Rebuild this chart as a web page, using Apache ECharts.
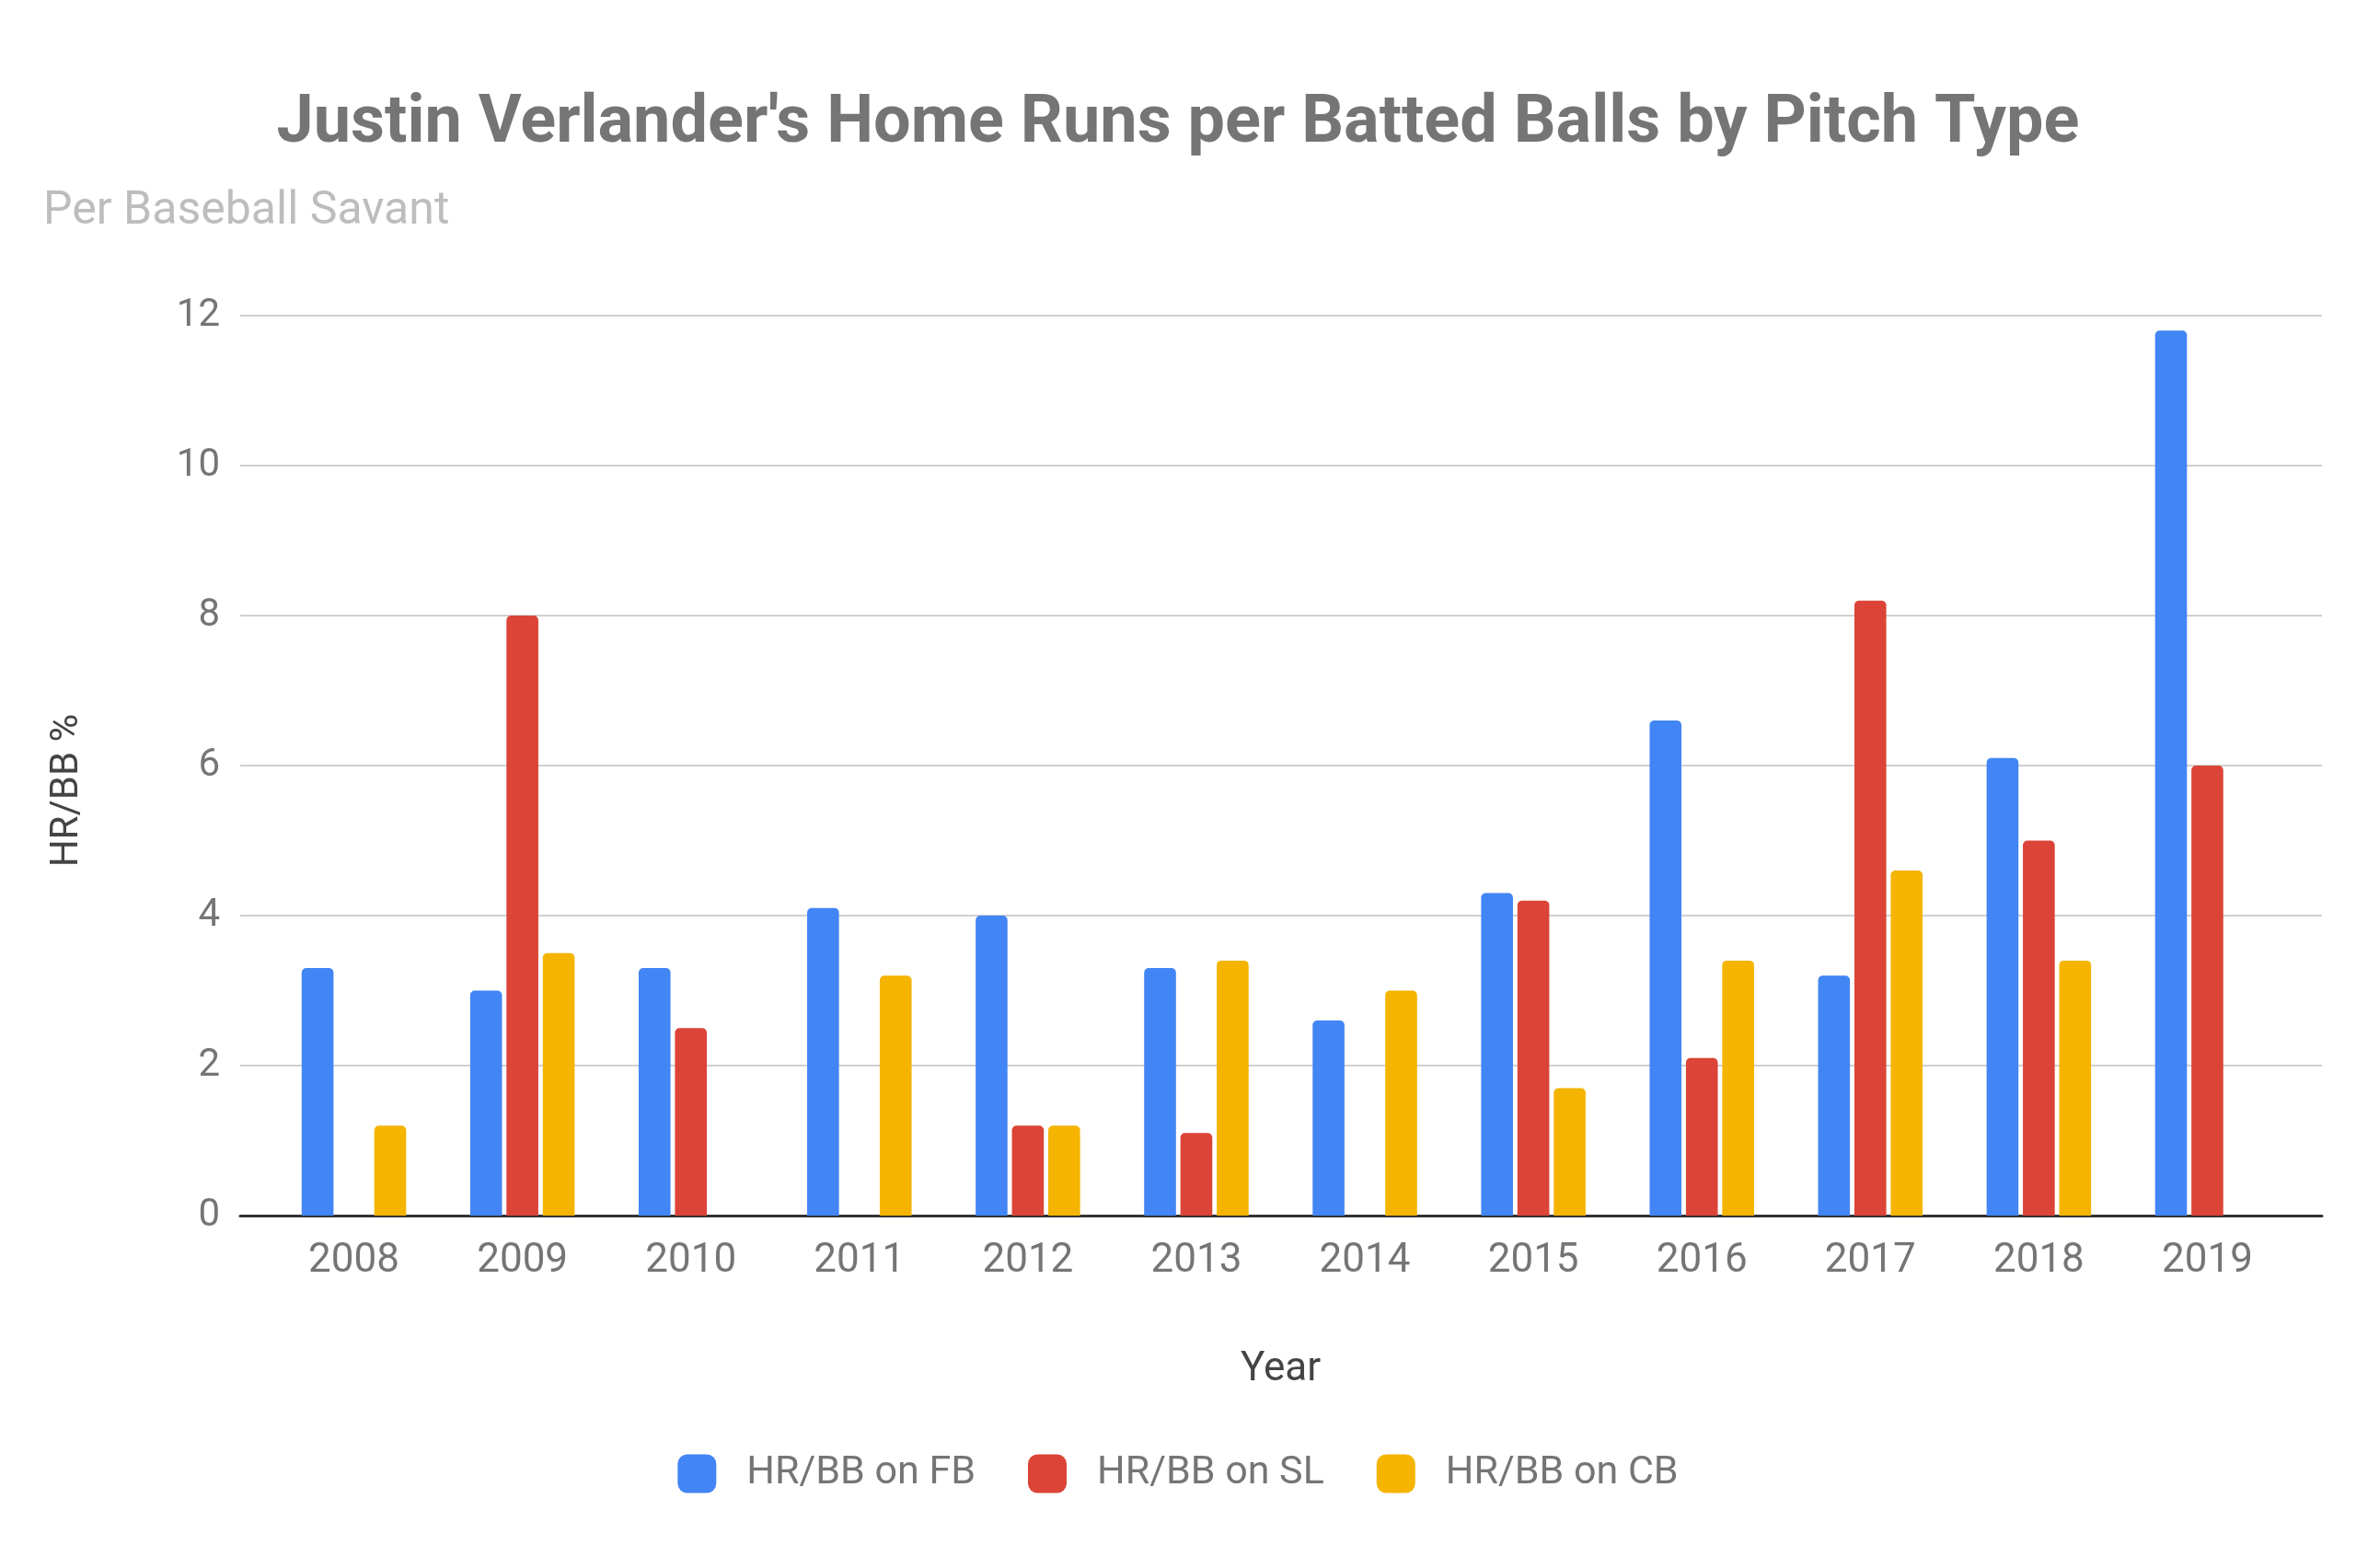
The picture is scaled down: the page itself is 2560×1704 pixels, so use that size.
<!DOCTYPE html>
<html>
<head>
<meta charset="utf-8">
<script src="https://cdn.jsdelivr.net/npm/echarts@6/dist/echarts.min.js"></script>
<style>
html, body { margin: 0; padding: 0; background: #fff; }
#chart { width: 2560px; height: 1704px; }
</style>
</head>
<body>
<div id="chart"></div>
<script>
var years = ['2008', '2009', '2010', '2011', '2012', '2013', '2014', '2015', '2016', '2017', '2018', '2019'];
var hrFB = [3.3, 3.0, 3.3, 4.1, 4.0, 3.3, 2.6, 4.3, 6.6, 3.2, 6.1, 11.8];
var hrSL = [0, 8.0, 2.5, 0, 1.2, 1.1, 0, 4.2, 2.1, 8.2, 5.0, 6.0];
var hrCB = [1.2, 3.5, 0, 3.2, 1.2, 3.4, 3.0, 1.7, 3.4, 4.6, 3.4, 0];
var seriesNames = ['HR/BB on FB', 'HR/BB on SL', 'HR/BB on CB'];
var colors = ['#4285F4', '#DB4437', '#F4B400'];

var myChart = echarts.init(document.getElementById('chart'));

function bar(name, data, color) {
    return {
        name: name,
        type: 'bar',
        xAxisIndex: 1,
        yAxisIndex: 1,
        data: data,
        barGap: '14%',
        barCategoryGap: '38%',
        itemStyle: { color: color, borderRadius: [5, 5, 0, 0] }
    };
}

var option = {
    backgroundColor: '#fff',
    color: colors,
    textStyle: { fontFamily: 'Roboto' },
    title: [
        {
            text: "Justin Verlander's Home Runs per Batted Balls by Pitch Type",
            left: 'center',
            top: 95,
            textStyle: { fontSize: 72, fontWeight: 'bold', color: '#757575', fontFamily: 'Roboto' }
        },
        {
            text: 'Per Baseball Savant',
            left: 42,
            top: 200,
            textStyle: { fontSize: 50, fontWeight: 'normal', color: '#bdbdbd', fontFamily: 'Roboto' }
        }
    ],
    // wide grid for gridlines and baseline, narrow grid for the bars
    grid: [
        { left: 261, right: 37, top: 343, bottom: 383 },
        { left: 293, right: 70, top: 343, bottom: 383 }
    ],
    legend: {
        data: seriesNames,
        bottom: 76,
        left: 'center',
        itemWidth: 42,
        itemHeight: 42,
        itemGap: 57,
        icon: 'roundRect',
        textStyle: { fontSize: 43, color: '#757575', padding: [0, 0, 0, 28] }
    },
    xAxis: [
        {
            type: 'category',
            gridIndex: 0,
            data: years,
            axisLine: { lineStyle: { color: '#333', width: 3 } },
            axisTick: { show: false },
            axisLabel: { show: false }
        },
        {
            type: 'category',
            gridIndex: 1,
            data: years,
            name: 'Year',
            nameLocation: 'middle',
            nameGap: 146,
            nameTextStyle: { fontSize: 44, color: '#444' },
            axisLine: { show: false },
            axisTick: { show: false },
            axisLabel: { fontSize: 44, color: '#757575', margin: 28 }
        }
    ],
    yAxis: [
        {
            type: 'value',
            gridIndex: 0,
            min: 0,
            max: 12,
            interval: 2,
            axisLine: { show: false },
            axisTick: { show: false },
            axisLabel: { fontSize: 42, color: '#757575', margin: 22 },
            splitLine: { lineStyle: { color: '#d0d0d0', width: 2 } }
        },
        {
            type: 'value',
            gridIndex: 1,
            min: 0,
            max: 12,
            interval: 2,
            axisLine: { show: false },
            axisTick: { show: false },
            axisLabel: { show: false },
            splitLine: { show: false }
        }
    ],
    graphic: [
        {
            type: 'text',
            x: 73,
            y: 859,
            rotation: Math.PI / 2,
            style: {
                text: 'HR/BB %',
                fontSize: 42,
                fontFamily: 'Roboto',
                fill: '#444',
                align: 'center',
                verticalAlign: 'middle'
            }
        }
    ],
    series: [
        bar(seriesNames[0], hrFB, colors[0]),
        bar(seriesNames[1], hrSL, colors[1]),
        bar(seriesNames[2], hrCB, colors[2])
    ]
};
myChart.setOption(option);
</script>
</body>
</html>
